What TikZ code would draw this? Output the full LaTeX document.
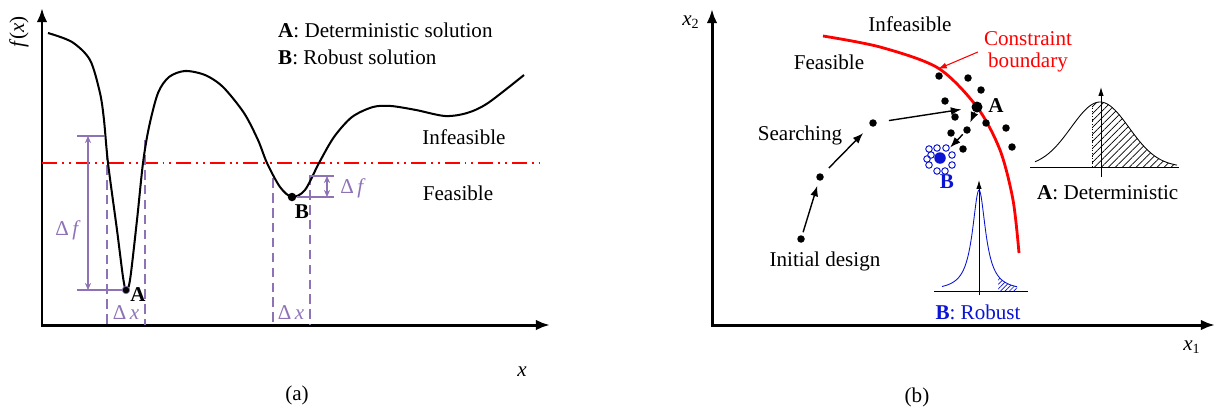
\documentclass[tikz,border=0pt]{standalone}
\usepackage{fontspec}
\setmainfont{Liberation Serif}
\usetikzlibrary{arrows.meta,positioning,patterns.meta,calc}
\definecolor{bnd}{HTML}{FF0000}
\definecolor{dlt}{HTML}{8E72B6}
\definecolor{rob}{HTML}{0A14D2}

\begin{document}
\begin{tikzpicture}[x=0.02cm,y=-0.02cm,font=\fontsize{12}{14}\selectfont,
  axis/.style={line width=1.7pt,line join=miter,{Latex[length=8pt,width=6pt]}-{Latex[length=8pt,width=6pt]}},
  dot/.style={circle,fill,inner sep=0pt,minimum size=0.15cm},
  bigdot/.style={dot,minimum size=0.22cm},
  ring/.style={circle,draw=rob,line width=0.55pt,inner sep=0pt,minimum size=0.13cm},
  arr/.style={-{Latex[length=6pt,width=4.5pt]},line width=0.8pt},
  dim/.style={dlt,line width=0.6pt},
  dimarr/.style={dim,{Stealth[length=4pt,width=3.5pt]}-{Stealth[length=4pt,width=3.5pt]}},
  guide/.style={dlt,line width=0.7pt,dash pattern=on 5.5pt off 3pt},
  lim/.style={bnd,line width=1.3pt,dash pattern=on 8.5pt off 2.8pt on 1.1pt off 2.8pt on 1.1pt off 2.8pt},
  pdf/.style={line width=0.5pt},
  lbl/.style={inner sep=1pt}]
\useasboundingbox (0,0) rectangle (1216,406);
% (a)
\draw[axis] (42,8) -- (42,325) -- (550,325);
\node[rotate=90] (fx) at (19,32) {\textit{f}(\textit{x})};
\node (xa) at (522,372) {\textit{x}};
\node (capa) at (297,395) {(a)};
\node[anchor=west] (leg1) at (272,30) {\textbf{A}: Deterministic solution};
\node[anchor=west] (leg2) at (272,57) {\textbf{B}: Robust solution};
\draw[lim] (42,163) -- (543,163);
\node (infa) at (464,137) {Infeasible};
\node (fea) at (458,193) {Feasible};
\draw[guide] (107,150) -- (107,325);
\draw[guide] (145,140) -- (145,325);
\draw[guide] (273,178) -- (273,325);
\draw[guide] (310,175) -- (310,325);
\draw[line width=1.15pt] plot[smooth,tension=0.5] coordinates {(48,33) (72,42) (90,60) (100,93) (104,120) (108,163) (117,230) (123,277) (126,290) (130,280) (137,220) (143,163) (149,127) (158,93) (169,77) (185,71) (205,75) (223,87) (244,113) (258,140) (267,163) (280,187) (292,197) (305,190) (319,163) (334,137) (352,117) (373,107) (391,106) (416,110) (445,116) (467,113) (488,103) (524,75)};
\node[dot,draw=dlt,minimum size=0.15cm] (ma) at (126,290) {};
\node[dot,minimum size=0.17cm] (mb) at (292,197) {};
\node[lbl,font=\fontsize{12}{14}\selectfont\bfseries] (la) at (138,295) {A};
\node[lbl,font=\fontsize{12}{14}\selectfont\bfseries] (lb) at (302,212) {B};
\draw[dim] (77,136) -- (104,136);
\draw[dim] (77,290) -- (ma);
\draw[dimarr] (88,136) -- (88,290);
\node[dlt] (dfa) at (68,230) {Δ\,\textit{f}};
\node[dlt] (dxa) at (126,313) {Δ\,\textit{x}};
\draw[dim] (310,176) -- (334,176);
\draw[dim] (mb) -- (334,197);
\draw[dimarr] (327,176) -- (327,197);
\node[dlt] (dfb) at (353,188) {Δ\,\textit{f}};
\node[dlt] (dxb) at (291,313) {Δ\,\textit{x}};
% (b)
\draw[axis] (712,9) -- (712,325) -- (1215,325);
\node (x2) at (691,22) {\textit{x}\textsubscript{2}};
\node (x1) at (1192,347) {\textit{x}\textsubscript{1}};
\node (capb) at (917,397) {(b)};
\draw[bnd,line width=1.6pt] plot[smooth] coordinates {(823,36) (880,47) (938,68) (977,107) (1000,150) (1013,200) (1019,253)};
\coordinate (tip) at (938,69);
\node (infb) at (910,24) {Infeasible};
\node (feb) at (829,62) {Feasible};
\node[bnd,align=center,font=\fontsize{12}{12.5}\selectfont] (cb) at (1028,52) {Constraint\\boundary};
\draw[bnd,line width=0.6pt,-{Latex[length=5pt,width=3.5pt]}] (cb.west) -- (tip);
\node[dot] (ini) at (801,239) {};
\node[dot] (s1) at (820,177) {};
\node[dot] (s2) at (873,123) {};
\node (srch) at (800,135) {Searching};
\node (init) at (825,261) {Initial design};
\node[bigdot] (pa) at (977,107) {};
\node[lbl,font=\fontsize{12}{14}\selectfont\bfseries] (lpa) at (996,106) {A};
\node[dot] (c1) at (939,76) {};
\node[dot] (c2) at (968,78) {};
\node[dot] (c3) at (981,90) {};
\node[dot] (c4) at (945,101) {};
\node[dot] (c5) at (955,117) {};
\node[dot] (c6) at (986,123) {};
\node[dot] (c7) at (1006,128) {};
\node[dot] (c8) at (951,133) {};
\node[dot] (c9) at (967,130) {};
\node[dot] (c10) at (963,149) {};
\node[dot] (c11) at (1012,147) {};
\foreach \p in {(929,149),(937,148),(946,148),(931,155),(952,155),(927,159),(929,165),(952,165),(937,171),(945,171)}
  \node[ring] at \p {};
\node[dot,fill=rob,minimum size=0.23cm] (pb) at (940,158) {};
\node[lbl,rob,font=\fontsize{12}{14}\selectfont\bfseries] (lpb) at (947,182) {B};
\draw[arr,shorten <=0.06cm,shorten >=0.1cm] (ini) -- (s1);
\draw[arr,shorten <=0.17cm,shorten >=0.2cm] (s1) -- (s2);
\draw[arr,shorten <=0.24cm,shorten >=0.2cm] (s2) -- (pa);
\draw[arr,shorten >=0.08cm] (pa) -- (c9);
\draw[arr,shorten <=0.04cm,shorten >=0.17cm] (c9) -- (pb);
% pdf A
\fill[pattern={Lines[angle=45,distance=2.8pt,line width=0.4pt]}] (1092,167) -- plot[domain=1092:1177,samples=40] (\x,{167-65*exp(-((\x-1100)/29)^2/2)}) -- (1177,167) -- cycle;
\draw[pdf] plot[domain=1035:1177,samples=70] (\x,{167-65*exp(-((\x-1100)/29)^2/2)});
\draw[pdf,densely dotted] (1092,167) -- (1092,{167-65*exp(-((1092-1100)/29)^2/2)});
\draw[pdf] (1030,167) -- (1179,167);
\draw[pdf,-{Latex[length=5pt,width=3pt]}] (1101,177) -- (1101,87);
\node[anchor=west] (lda) at (1031,193) {\textbf{A}: Deterministic};
% pdf B
\fill[pattern={Lines[angle=45,distance=1.8pt,line width=0.4pt]},pattern color=rob] (998,291) -- plot[domain=998:1017,samples=20] (\x,{291-101/(1+((\x-979)/8)^2)}) -- (1017,291) -- cycle;
\draw[pdf,rob] plot[smooth,domain=942:1017,samples=120] (\x,{291-101/(1+((\x-979)/8)^2)});
\draw[pdf] (934,291) -- (1028,291);
\draw[pdf,-{Latex[length=5pt,width=3pt]}] (979,295) -- (979,180);
\node[rob] (ldb) at (978,312) {\textbf{B}: Robust};
\end{tikzpicture}
\end{document}
